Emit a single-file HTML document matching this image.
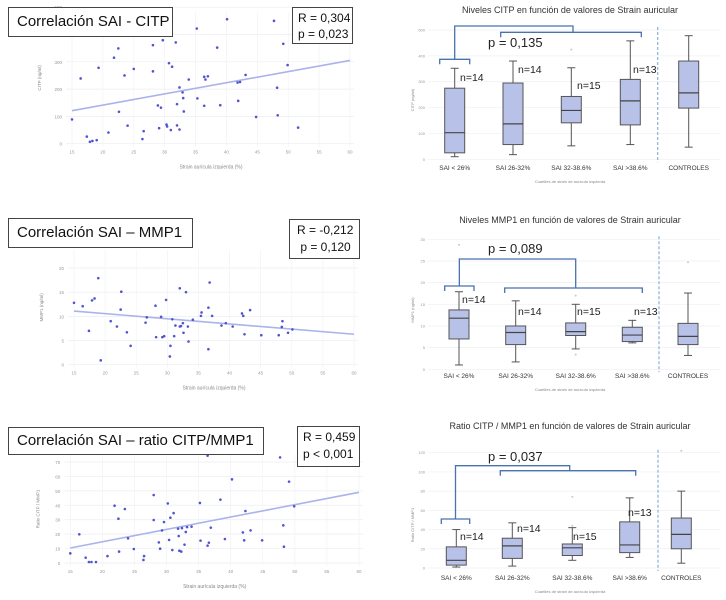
<!DOCTYPE html>
<html><head><meta charset="utf-8">
<style>
body{margin:0;background:#fff;width:726px;height:600px;overflow:hidden;font-family:"Liberation Sans",sans-serif}
svg{position:absolute;left:0;top:0}
.lbl{position:absolute;border:1px solid #444;background:#fff;font-family:"Liberation Sans",sans-serif;color:#111;box-sizing:border-box}
</style></head><body>
<svg id="c" width="726" height="600"></svg>

<div class="lbl" style="left:8px;top:7px;width:165px;height:30px;font-size:15px;line-height:28px;padding-left:8px">Correlación SAI - CITP</div>
<div class="lbl" style="left:292px;top:7px;width:61px;height:37px;font-size:12px;line-height:16px;padding:2px 0 0 5px">R = 0,304<br>p = 0,023</div>
<div class="lbl" style="left:8px;top:218px;width:185px;height:30px;font-size:15px;line-height:28px;padding-left:8px">Correlación SAI – MMP1</div>
<div class="lbl" style="left:289px;top:219px;width:71px;height:40px;font-size:12px;line-height:17px;padding:2px 0 0 7px">R = -0,212<br>&nbsp;p = 0,120</div>
<div class="lbl" style="left:8px;top:427px;width:256px;height:28px;font-size:15px;line-height:26px;padding-left:8px">Correlación SAI – ratio CITP/MMP1</div>
<div class="lbl" style="left:297px;top:426px;width:63px;height:41px;font-size:12px;line-height:17px;padding:2px 0 0 5px">R = 0,459<br>p &lt; 0,001</div>

<script>
// ---- scatter data ----
const s1x=[15.0,16.4,17.4,17.9,18.3,19.0,19.3,20.9,21.8,22.5,22.6,23.5,24.0,25.0,26.4,26.6,28.1,28.1,28.9,29.1,29.4,29.7,30.3,30.4,30.7,31.0,31.2,31.8,32.0,32.0,32.4,32.4,32.9,33.0,33.1,33.9,35.2,35.3,36.4,36.4,36.6,37.0,38.5,39.0,40.1,41.8,41.9,42.2,43.1,44.8,47.7,48.2,48.3,49.2,49.9,51.6];
const s1y=[89,239,26,7,10,13,278,41,315,349,117,250,66,274,17,46,361,265,140,57,132,379,70,63,295,50,282,371,145,67,206,52,188,167,118,235,422,166,245,139,235,247,352,141,456,224,157,226,252,98,450,205,104,366,288,59];
const s1line=[121,305];
const s2x=[15,16.4,17.4,17.9,18.3,18.9,19.3,20.9,21.9,22.6,22.5,23.5,24.1,26.5,26.7,28.1,28.2,29.0,29.2,29.5,29.8,30.4,30.5,30.8,31.1,31.3,32.0,32.0,32.2,32.5,32.6,33.0,33.3,33.4,34.1,35.4,35.5,36.6,36.6,36.8,37.2,38.7,39.4,40.5,42.0,42.2,42.4,43.3,45.1,47.9,48.4,48.5,49.4,50.1];
const s2y=[12.8,12.1,7.0,13.3,13.7,17.9,0.9,9.0,7.9,15.1,11.4,6.7,3.9,8.7,9.8,12.2,5.7,9.9,5.7,5.9,13.4,1.7,3.9,9.4,5.9,8.1,15.8,7.9,8.0,8.6,6.6,15.0,7.9,4.8,9.3,10.1,10.8,11.8,3.2,17.0,10.1,8.1,8.6,7.9,10.6,10.1,6.3,11.3,6.1,6.1,7.8,9.0,6.6,7.3];
const s2line=[11.1,6.3];
const s3x=[15,16.4,17.4,17.9,18.3,19.0,20.8,21.9,22.5,22.6,23.5,24.0,24.9,26.4,26.5,28.0,28.0,28.8,29.0,29.3,29.6,30.2,30.4,30.6,30.9,31.1,31.8,31.9,32.0,32.3,32.4,32.8,33.0,33.2,33.9,35.2,35.3,36.4,36.4,36.6,36.9,38.4,39.1,40.2,41.9,42.1,42.3,43.1,44.9,47.7,48.2,48.3,49.1,49.9];
const s3y=[6.7,19.9,3.7,0.7,0.7,0.7,4.8,39.7,30.7,7.9,37.4,17.1,9.7,2.1,4.8,47.1,29.8,14.3,9.9,22.6,28.4,41.3,16.0,31.4,9.0,34.6,23.8,18.7,8.5,7.9,24.2,12.7,21.5,24.9,25.2,41.6,15.5,74.4,12.0,14.1,24.5,43.9,16.6,58.0,21.2,15.7,36.0,22.6,15.7,73.2,26.1,11.3,56.4,39.3];
const s3line=[10.4,49];
const xTicks=[15,20,25,30,35,40,45,50,55,60];
const t1=[0,100,200,300,400,500], t2=[0,5,10,15,20], t3=[0,10,20,30,40,50,60,70];

// ---- box data: [min,q1,median,q3,max] ----
const boxCats=["SAI < 26%","SAI 26-32%","SAI 32-38.6%","SAI >38.6%","CONTROLES"];
const bA=[[10,25,103,275,352],[18,57,137,295,380],[52,141,189,243,354],[57,133,226,309,458],[47,198,257,380,478]];
const bAout=[[],[],[424],[],[]];
const bB=[[1.0,7.0,11.8,13.7,17.9],[1.7,5.7,8.5,10.0,15.8],[4.7,7.8,8.7,10.7,15.0],[6.1,6.4,7.9,9.7,11.3],[3.2,5.7,7.6,10.6,17.6]];
const bBout=[[28.7],[],[17,3.4],[],[24.7]];
const bC=[[1,3,8,22,40],[2,10,23,31,47],[8,13,21,25,42],[11,16,24,48,73],[5,20,35,52,80]];
const bCout=[[],[],[74,44],[],[122]];
const nLabels=["n=14","n=14","n=15","n=13"];
const tA=[0,100,200,300,400,500], tB=[0,5,10,15,20,25,30], tC=[0,20,40,60,80,100,120];

const svg=document.getElementById('c');
const NS='http://www.w3.org/2000/svg';
function el(tag,attrs,name,txt){
  const e=document.createElementNS(NS,tag);
  for(const k in attrs)e.setAttribute(k,attrs[k]);
  
  
  if(txt!==undefined)e.textContent=txt;
  svg.appendChild(e);return e;
}
function scatter(p,xs,ys,line,yt){
  const X=v=>p.x0+(v-15)*(p.x1-p.x0)/45;
  const Y=v=>p.y0-(v-yt[0])*(p.y0-p.y1)/(p.yv-yt[0]);
  yt.forEach(t=>{el('line',{x1:X(15)-6,x2:X(60)+4,y1:Y(t),y2:Y(t),stroke:'#eceef4','stroke-width':0.7},'y-gridline');
    el('text',{x:X(15)-10,y:Y(t)+2,'font-size':4.5,fill:'#999','text-anchor':'end'},'y-tick-label',t);});
  xTicks.forEach(t=>{el('line',{x1:X(t),x2:X(t),y1:Y(yt[0])+3,y2:p.top,stroke:'#f1f2f7','stroke-width':0.7},'x-gridline');
    el('text',{x:X(t),y:Y(yt[0])+10,'font-size':4.5,fill:'#999','text-anchor':'middle'},'x-tick-label',t);});
  el('text',{x:(X(15)+X(60))/2,y:Y(yt[0])+25,'font-size':5,fill:'#888','text-anchor':'middle'},'x-axis-title','Strain aurícula izquierda (%)');
  const cy=(Y(yt[0])+p.top)/2;
  el('text',{x:p.x0-31,y:cy,'font-size':4.5,fill:'#888','text-anchor':'middle',transform:`rotate(-90 ${p.x0-31} ${cy})`},'y-axis-title',p.yl);
  el('line',{x1:X(15),x2:X(60),y1:Y(line[0]),y2:Y(line[1]),stroke:'#aab3ea','stroke-width':1.6},'regression-line');
  xs.forEach((v,i)=>el('circle',{cx:X(v),cy:Y(ys[i]),r:1.3,fill:'#4f55cf'},'data-point'));
}
scatter({x0:72,x1:350,y0:143.7,y1:116.4,yv:100,top:12,yl:'CITP (ng/ml)'},s1x,s1y,s1line,t1);
scatter({x0:74,x1:354,y0:364.7,y1:268,yv:20,top:250,yl:'MMP1 (ng/ml)'},s2x,s2y,s2line,t2);
scatter({x0:70.3,x1:359,y0:563,y1:462,yv:70,top:455,yl:'Ratio CITP / MMP1'},s3x,s3y,s3line,t3);

function boxes(p,data,outs,yt){
  const Y=v=>p.y0-v*(p.y0-p.y1)/yt[yt.length-1];
  yt.forEach(t=>{el('line',{x1:428,x2:720,y1:Y(t),y2:Y(t),stroke:'#eeeff3','stroke-width':0.7},'y-gridline');
    el('text',{x:425,y:Y(t)+1.5,'font-size':4,fill:'#999','text-anchor':'end'},'y-tick-label',t);});
  el('text',{x:414,y:p.ym,'font-size':4,fill:'#888','text-anchor':'middle',transform:`rotate(-90 414 ${p.ym})`},'y-axis-title',p.yl);
  el('line',{x1:p.dash,x2:p.dash,y1:Y(yt[yt.length-1])-3,y2:p.y0+3,stroke:'#8ab0d8','stroke-width':1.2,'stroke-dasharray':'3,2'},'controls-divider');
  data.forEach((d,i)=>{
    const cx=p.xs[i],w=10;
    el('line',{x1:cx,x2:cx,y1:Y(d[0]),y2:Y(d[4]),stroke:'#555','stroke-width':1},'whisker');
    el('line',{x1:cx-4,x2:cx+4,y1:Y(d[0]),y2:Y(d[0]),stroke:'#555','stroke-width':1},'whisker-cap');
    el('line',{x1:cx-4,x2:cx+4,y1:Y(d[4]),y2:Y(d[4]),stroke:'#555','stroke-width':1},'whisker-cap');
    el('rect',{x:cx-w,y:Y(d[3]),width:2*w,height:Y(d[1])-Y(d[3]),fill:'#b8c2e8',stroke:'#555','stroke-width':1},'box-'+(i+1));
    el('line',{x1:cx-w,x2:cx+w,y1:Y(d[2]),y2:Y(d[2]),stroke:'#444','stroke-width':1.2},'median-line');
    outs[i].forEach(o=>el('circle',{cx:cx,cy:Y(o),r:1,fill:'#c8c8d0'},'outlier'));
    el('text',{x:cx,y:p.xl,'font-size':6.5,fill:'#333','text-anchor':'middle'},'category-label',boxCats[i]);
  });
  el('text',{x:570,y:p.xl+13,'font-size':4,fill:'#888','text-anchor':'middle'},'x-axis-title','Cuartiles de strain de aurícula izquierda');
  el('text',{x:570,y:p.ty,'font-size':9,fill:'#333','text-anchor':'middle'},'chart-title',p.title);
  p.n.forEach((q,i)=>el('text',{x:q[0],y:q[1],'font-size':10.5,fill:'#222'},'n-label',nLabels[i]));
  el('text',{x:p.pv[0],y:p.pv[1],'font-size':13,fill:'#222'},'p-value',p.pt);
  const b=p.br,c='#4a72b0';
  el('path',{d:`M${b[0]} ${b[2]+5}V${b[2]}H${b[1]}V${b[2]+5}`,fill:'none',stroke:c,'stroke-width':1.3},'bracket-small');
  el('path',{d:`M${(b[0]+b[1])/2} ${b[2]}V${b[3]}H${b[4]}V${b[5]}`,fill:'none',stroke:c,'stroke-width':1.3},'bracket-connector');
  el('path',{d:`M${b[6]} ${b[5]+5}V${b[5]}H${b[7]}V${b[5]+5}`,fill:'none',stroke:c,'stroke-width':1.3},'bracket-large');
}
boxes({y0:159.3,y1:30,xs:[454.7,513,571.3,630.3,688.7],dash:657.7,xl:170,ty:13,ym:100,yl:'CITP (ng/ml)',
  title:'Niveles CITP en función de valores de Strain auricular',
  n:[[460,81],[518,73],[577,89],[633,73]],pv:[488,47],pt:'p = 0,135',
  br:[439.7,469.7,59.3,26,573,32.3,500.7,641.3]},bA,bAout,tA);
boxes({y0:369.3,y1:239.3,xs:[459,515.7,575.7,632.3,688],dash:659,xl:378,ty:223,ym:310,yl:'MMP1 (ng/ml)',
  title:'Niveles MMP1 en función de valores de Strain auricular',
  n:[[462,303],[518,315],[577,315],[634,315]],pv:[488,253],pt:'p = 0,089',
  br:[444.7,474,286,259,575.7,288,504.7,642.3]},bB,bBout,tB);
boxes({y0:568,y1:452.7,xs:[456.3,512.3,572.3,629.7,681.3],dash:658,xl:580,ty:429,ym:525,yl:'Ratio CITP / MMP1',
  title:'Ratio CITP / MMP1 en función de valores de Strain auricular',
  n:[[460,540],[517,532],[573,540],[628,516]],pv:[488,461],pt:'p = 0,037',
  br:[441.3,469.7,519,465.7,569.7,470.7,500.3,635.7]},bC,bCout,tC);
</script>
</body></html>
